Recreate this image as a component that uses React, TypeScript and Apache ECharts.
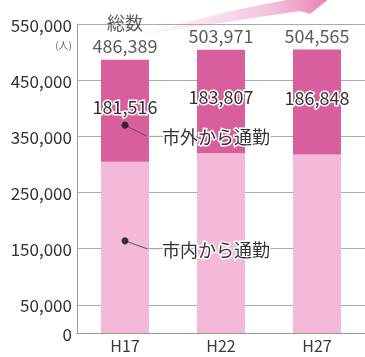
import React, { useEffect, useRef } from "react";
import * as echarts from "echarts";

const categories = ["H17", "H22", "H27"];
const totals = [486389, 503971, 504565];
const outsideCity = [181516, 183807, 186848];
const insideCity = [304873, 320164, 317717];
const gridValues = [50000, 150000, 250000, 350000, 450000, 550000];
const annotations = [
  { name: "市外から通勤", dotValue: 370000, lineValue: 350000 },
  { name: "市内から通勤", dotValue: 164000, lineValue: 150000 },
];

const FONT = '"Noto Sans CJK JP", "Noto Sans", sans-serif';
const fmt = (v: number) => v.toLocaleString("en-US");

export default function App() {
  const ref = useRef<HTMLDivElement>(null);
  useEffect(() => {
    if (!ref.current) return;
    const chart = echarts.init(ref.current, undefined, { renderer: "svg" });
    const option: any = {
      animation: false,
      textStyle: { fontFamily: FONT },
      grid: { left: 77, top: 24, width: 294, height: 309, containLabel: false },
      xAxis: {
        type: "category",
        data: categories,
        axisLine: { lineStyle: { color: "#999", width: 1 } },
        axisTick: { show: false },
        axisLabel: { fontSize: 16, color: "#3a3a3a", margin: 4, fontFamily: FONT, lineHeight: 16 },
      },
      yAxis: {
        type: "value",
        min: 0,
        max: 550000,
        interval: 50000,
        axisLine: { show: true, lineStyle: { color: "#999", width: 1 } },
        axisTick: { show: false },
        splitLine: { show: false },
        axisLabel: {
          fontSize: 17,
          color: "#333",
          margin: 5,
          fontFamily: FONT,
          formatter: (v: number) => (v === 0 || (v / 50000) % 2 === 1 ? fmt(v) : ""),
        },
      },
      series: [
        {
          name: "市内から通勤",
          type: "bar",
          stack: "a",
          barWidth: 48,
          data: insideCity,
          itemStyle: { color: "#f4b8d8" },
          markLine: {
            silent: true,
            z: 1,
            symbol: ["none", "none"],
            label: { show: false },
            lineStyle: { color: "#aaa", width: 1, type: "solid" },
            data: gridValues.map((v) => ({ yAxis: v })),
          },
        },
        {
          name: "市外から通勤",
          type: "bar",
          stack: "a",
          barWidth: 48,
          data: outsideCity,
          itemStyle: { color: "#d95e9e" },
          label: {
            show: true,
            position: "inside",
            offset: [0, -5],
            formatter: (p: any) => fmt(p.value),
            fontSize: 18,
            fontFamily: FONT,
            color: "#333",
            textBorderColor: "#fff",
            textBorderWidth: 3,
          },
        },
        {
          name: "総数",
          type: "scatter",
          symbolSize: 1,
          itemStyle: { color: "rgba(0,0,0,0)" },
          data: totals.map((v, i) => [i, v]),
          z: 4,
          label: {
            show: true,
            position: "top",
            distance: 3,
            fontSize: 18,
            fontFamily: FONT,
            color: "#333",
            lineHeight: 23,
            formatter: (p: any) => (p.dataIndex === 0 ? "総数\n" : "") + fmt(p.value[1]),
          },
        },
        {
          name: "dots",
          type: "scatter",
          symbolSize: 7,
          z: 6,
          itemStyle: { color: "#111" },
          data: annotations.map((a) => [0, a.dotValue]),
        },
      ],
    };
    chart.setOption(option);

    const graphics: any[] = [
      {
        type: "polygon",
        z: 0,
        shape: {
          points: [
            [142, 35], [200, 26], [260, 17], [300, 11], [310, 14], [345, -14],
            [290, -6], [286, 0], [240, 9], [190, 21],
          ],
        },
        style: {
          fill: new echarts.graphic.LinearGradient(0, 0, 1, 0, [
            { offset: 0, color: "rgba(244,190,220,0.1)" },
            { offset: 0.6, color: "rgba(236,160,200,0.6)" },
            { offset: 1, color: "#e46aa8" },
          ]),
        },
      },
      {
        type: "text",
        x: 72,
        y: 44,
        style: { text: "(人)", fill: "#666", fontSize: 10, fontFamily: FONT, align: "right", verticalAlign: "middle" },
      },
    ];
    annotations.forEach((a) => {
      const d = chart.convertToPixel({ xAxisIndex: 0, yAxisIndex: 0 }, [0, a.dotValue]) as number[];
      const l = chart.convertToPixel({ xAxisIndex: 0, yAxisIndex: 0 }, [0, a.lineValue]) as number[];
      graphics.push({
        type: "line",
        z: 5,
        shape: { x1: d[0], y1: d[1], x2: d[0] + 22, y2: l[1] },
        style: { stroke: "#555", lineWidth: 1 },
      });
      graphics.push({
        type: "line",
        z: 5,
        shape: { x1: d[0] + 22, y1: l[1], x2: d[0] + 37, y2: l[1] },
        style: { stroke: "#aaa", lineWidth: 1 },
      });
      graphics.push({
        type: "text",
        z: 7,
        x: d[0] + 37,
        y: l[1],
        style: {
          text: a.name,
          fill: "#333",
          fontSize: 18,
          fontFamily: FONT,
          verticalAlign: "middle",
          align: "left",
          stroke: "#fff",
          lineWidth: 3,
        },
      });
    });
    chart.setOption({ graphic: graphics });

    return () => chart.dispose();
  }, []);
  return <div ref={ref} style={{ position: "fixed", left: 0, top: 0, width: 365, height: 357 }} />;
}
